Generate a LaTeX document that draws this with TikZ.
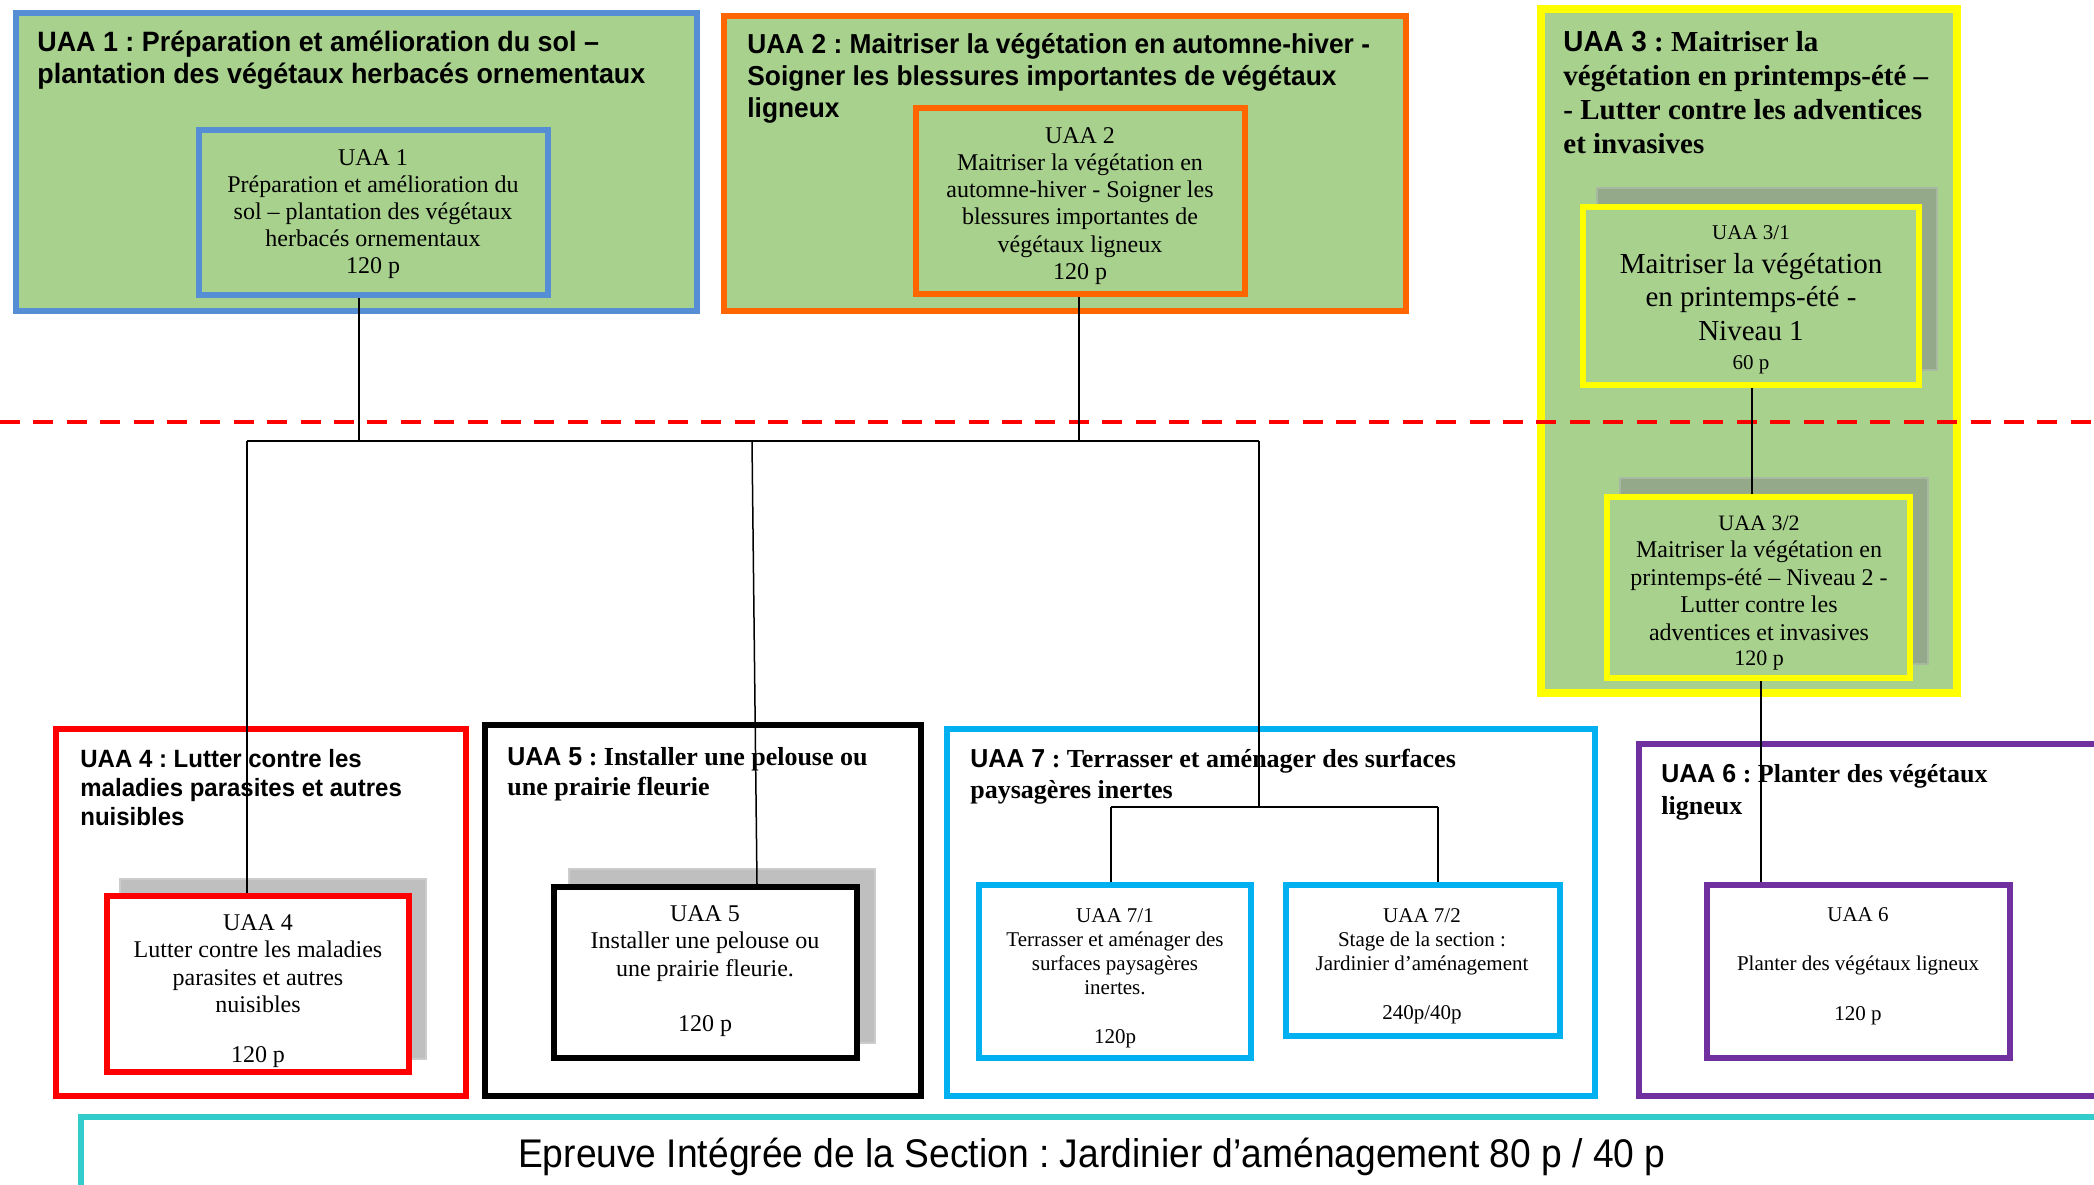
\documentclass[tikz,border=0pt]{standalone}
\usepackage{fontspec}
\setmainfont{Liberation Serif}
\newfontfamily\tsans[FakeStretch=0.96]{Liberation Sans}
\newfontfamily\tsansb[FakeStretch=0.93]{Liberation Sans}
\usetikzlibrary{fit}
\frenchspacing
\definecolor{gfill}{HTML}{A9D18E}
\definecolor{cblue}{HTML}{558ED5}
\definecolor{corange}{HTML}{FF6600}
\definecolor{cyellow}{HTML}{FFFF00}
\definecolor{cred}{HTML}{FF0000}
\definecolor{ccyan}{HTML}{00B0F0}
\definecolor{cpurple}{HTML}{7030A0}
\definecolor{cteal}{HTML}{33CCCC}
\definecolor{shgrey}{HTML}{BFBFBF}
\definecolor{shgreen}{HTML}{94A88A}
\tikzset{
  outerbox/.style={draw=#1, line width=3pt, inner sep=0pt},
  innerbox/.style={draw=#1, line width=2.7pt, inner sep=0pt},
  shadowbox/.style={fill=#1, draw=#1!80!white, line width=1pt, inner sep=0pt},
  ttl/.style={anchor=base west, inner sep=0pt, align=left},
  txt/.style={inner sep=0pt, align=center},
  conn/.style={line width=0.75pt, black},
}
\begin{document}
\begin{tikzpicture}[x=0.5pt,y=-0.5pt]
\frenchspacing
\useasboundingbox (0,0) rectangle (2094,1184);
\fill[white] (0,0) rectangle (2094,1184);

% ---------- UAA 1 ----------
\node[outerbox=cblue, fill=gfill, fit={(16,13) (697,311)}] (uaa1) {};
\node[ttl, font=\tsans\bfseries\fontsize{14}{16}\selectfont] (t1) at (37,83.5)
  {UAA 1 : Préparation et amélioration du sol –\\plantation des végétaux herbacés ornementaux};
\node[innerbox=cblue, fill=gfill, fit={(199,130) (548,295)}] (uaa1i) {};
\node[txt, font=\fontsize{12}{13.5}\selectfont] (uaa1t) at (373,214)
  {UAA 1\\Préparation et amélioration du\\sol – plantation des végétaux\\herbacés ornementaux\\120 p};

% ---------- UAA 2 ----------
\node[outerbox=corange, fill=gfill, fit={(724,16) (1406,311)}] (uaa2) {};
\node[ttl, font=\tsans\bfseries\fontsize{13.7}{15.8}\selectfont] (t2) at (747,117)
  {UAA 2 : Maitriser la végétation en automne-hiver -\\Soigner les blessures importantes de végétaux\\ligneux};
\node[innerbox=corange, fill=gfill, fit={(916,108) (1245,294)}] (uaa2i) {};
\node[txt, font=\fontsize{12}{13.6}\selectfont] (uaa2t) at (1080,206)
  {UAA 2\\Maitriser la végétation en\\automne-hiver - Soigner les\\blessures importantes de\\végétaux ligneux\\120 p};

% ---------- UAA 3 ----------
\node[draw=cyellow, line width=4pt, inner sep=0pt, fill=gfill, fit={(1541,9) (1957,693)}] (uaa3) {};
\node[ttl, font=\bfseries\fontsize{14.5}{17}\selectfont] (t3) at (1563,153)
  {{\tsans UAA 3} : Maitriser la\\végétation en printemps-été –\\- Lutter contre les adventices\\et invasives};
\node[shadowbox=shgreen, fit={(1597,188) (1937,370)}] (sh31) {};
\node[innerbox=cyellow, line width=3pt, fill=gfill, fit={(1583,207) (1919,385)}] (uaa31) {};
\node[txt, font=\fontsize{14.5}{16.7}\selectfont] (uaa31t) at (1751,300)
  {{\fontsize{10.5}{12}\selectfont UAA 3/1}\\Maitriser la végétation\\en printemps-été -\\Niveau 1\\[-2pt]{\fontsize{10.5}{12}\selectfont 60 p}};
\node[shadowbox=shgreen, fit={(1620,478) (1928,664)}] (sh32) {};
\node[innerbox=cyellow, line width=3pt, fill=gfill, fit={(1607,497) (1910,678)}] (uaa32) {};
\node[txt, font=\fontsize{12}{13.7}\selectfont] (uaa32t) at (1759,593)
  {{\fontsize{11}{12}\selectfont UAA 3/2}\\Maitriser la végétation en\\printemps-été – Niveau 2 -\\Lutter contre les\\adventices et invasives\\[-1pt]{\fontsize{11}{12}\selectfont 120 p}};

% ---------- red dashed separator ----------
\coordinate (dl) at (0,422);
\coordinate (dr) at (2094,422);
\draw[cred, line width=2pt, dash pattern=on 10pt off 6.7pt] (dl) -- (dr);

% ---------- UAA 4 ----------
\node[outerbox=cred, fit={(56,729) (466,1096)}] (uaa4) {};
\node[ttl, font=\tsans\bfseries\fontsize{12.5}{14.3}\selectfont] (t4) at (80,825)
  {UAA 4 : Lutter contre les\\maladies parasites et autres\\nuisibles};
\node[shadowbox=shgrey, fit={(120,879) (426,1059)}] (sh4) {};
\node[innerbox=cred, fill=white, fit={(107,896) (409,1072)}] (uaa4i) {};
\node[txt, font=\fontsize{12}{13.7}\selectfont] (uaa4t) at (258,991)
  {UAA 4\\Lutter contre les maladies\\parasites et autres\\nuisibles\\[11pt]120 p};

% ---------- UAA 5 ----------
\node[outerbox=black, fit={(485,725) (921,1096)}] (uaa5) {};
\node[ttl, font=\bfseries\fontsize{13}{15}\selectfont] (t5) at (507,795)
  {{\tsans UAA 5} : Installer une pelouse ou\\une prairie fleurie};
\node[shadowbox=shgrey, fit={(569,869) (875,1043)}] (sh5) {};
\node[innerbox=black, line width=3pt, fill=white, fit={(554,887) (857,1058)}] (uaa5i) {};
\node[txt, font=\fontsize{12}{13.7}\selectfont] (uaa5t) at (705,971)
  {UAA 5\\Installer une pelouse ou\\une prairie fleurie.\\[13.7pt]120 p};

% ---------- UAA 7 ----------
\node[outerbox=ccyan, fit={(947,729) (1595,1096)}] (uaa7) {};
\node[ttl, font=\bfseries\fontsize{13}{15.5}\selectfont] (t7) at (970,798)
  {{\tsans UAA 7} : Terrasser et aménager des surfaces\\paysagères inertes};
\node[innerbox=ccyan, line width=3pt, fill=white, fit={(979,885) (1251,1058)}] (uaa71) {};
\node[txt, font=\fontsize{10.5}{12}\selectfont] (uaa71t) at (1115,978)
  {UAA 7/1\\Terrasser et aménager des\\surfaces paysagères\\inertes.\\[12.7pt]120p};
\node[innerbox=ccyan, line width=3pt, fill=white, fit={(1286,885) (1560,1036)}] (uaa72) {};
\node[txt, font=\fontsize{10.5}{12}\selectfont] (uaa72t) at (1422,966)
  {UAA 7/2\\Stage de la section :\\Jardinier d’aménagement\\[12.7pt]240p/40p};

% ---------- UAA 6 ----------
\node[outerbox=cpurple, fit={(1639,744) (2100,1096)}] (uaa6) {};
\node[ttl, font=\bfseries\fontsize{13}{16}\selectfont] (t6) at (1661,814)
  {{\tsans UAA 6} : Planter des végétaux\\ligneux};
\node[innerbox=cpurple, line width=3pt, fill=white, fit={(1707,885) (2010,1058)}] (uaa6i) {};
\node[txt, font=\fontsize{10.5}{12}\selectfont] (uaa6t) at (1858,966)
  {UAA 6\\[12.7pt]Planter des végétaux ligneux\\[12.7pt]120 p};

% ---------- bottom box ----------
\node[draw=cteal, line width=2.7pt, inner sep=0pt, fit={(81,1117) (2100,1190)}] (epr) {};
\node[inner sep=0pt, font=\tsansb\fontsize{20}{24}\selectfont] (eprt) at (1092,1157)
  {Epreuve Intégrée de la Section : Jardinier d’aménagement 80 p / 40 p};

% ---------- connectors ----------
\coordinate (jL) at (247,441);
\coordinate (jR) at (1259,441);
\coordinate (j1) at (359,441);
\coordinate (j2) at (1079,441);
\coordinate (j5) at (752,441);
\coordinate (k5) at (757,885);
\coordinate (j7) at (1259,807);
\coordinate (j71) at (1111,807);
\coordinate (j72) at (1438,807);
\coordinate (k3) at (1752,400);
\coordinate (k6) at (1761,700);
\draw[conn] (uaa1i.south -| j1) -- (j1);
\draw[conn] (uaa2i.south -| j2) -- (j2);
\draw[conn] (jL) -- (jR);
\draw[conn] (jL) -- (uaa4i.north -| jL);
\draw[conn] (j5) -- (uaa5i.north -| k5);
\draw[conn] (jR) -- (j7);
\draw[conn] (j71) -- (j72);
\draw[conn] (j71) -- (uaa71.north -| j71);
\draw[conn] (j72) -- (uaa72.north -| j72);
\draw[conn] (uaa31.south -| k3) -- (uaa32.north -| k3);
\draw[conn] (uaa32.south -| k6) -- (uaa6i.north -| k6);
\end{tikzpicture}
\end{document}
